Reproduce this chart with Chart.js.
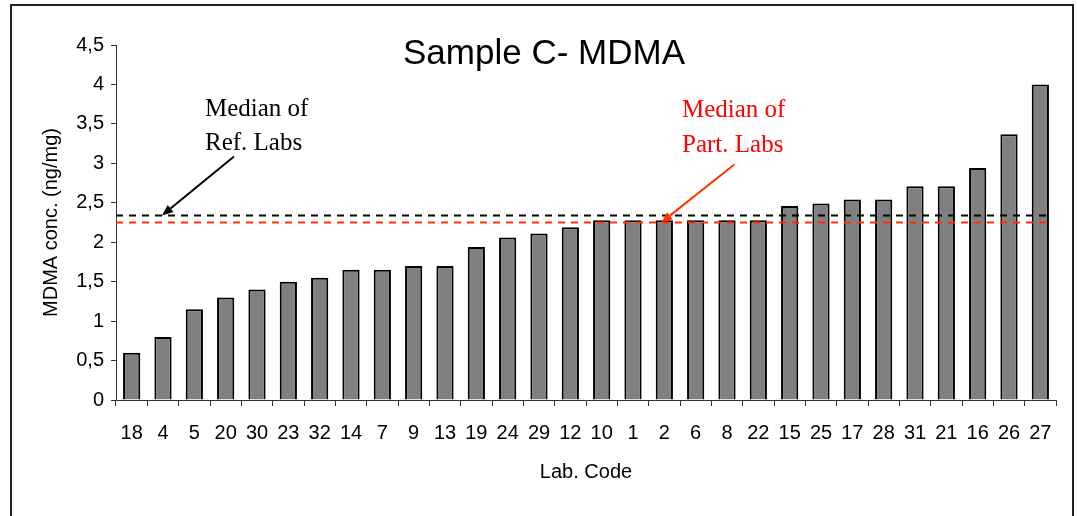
<!DOCTYPE html>
<html>
<head>
<meta charset="utf-8">
<script src="https://cdn.jsdelivr.net/npm/chart.js@4"></script>
<style>
  html, body { margin: 0; padding: 0; background: #fff; }
  #wrap { width: 1077px; height: 516px; }
</style>
</head>
<body>
<div id="wrap"><canvas id="myChart" width="1077" height="516"></canvas></div>
<script>
// lab codes, sorted by result
const labCodes = ['18','4','5','20','30','23','32','14','7','9','13','19','24','29','12',
                  '10','1','2','6','8','22','15','25','17','28','31','21','16','26','27'];
const mdmaConc = [0.6, 0.8, 1.15, 1.3, 1.4, 1.5, 1.55, 1.65, 1.65, 1.7, 1.7, 1.94, 2.06, 2.11, 2.19,
                  2.28, 2.28, 2.28, 2.28, 2.28, 2.28, 2.46, 2.49, 2.54, 2.54, 2.71, 2.71, 2.94, 3.37, 4.0];
const yTicks = [0, 0.5, 1, 1.5, 2, 2.5, 3, 3.5, 4, 4.5];
const refMedian = 2.34;
const partMedian = 2.25;

const sans = "'Liberation Sans', Arial, sans-serif";
const serif = "'Liberation Serif', 'Times New Roman', serif";

const arrow = (ctx, x0, y0, x1, y1, color) => {
    ctx.save();
    ctx.strokeStyle = color;
    ctx.fillStyle = color;
    ctx.lineWidth = 2;
    const a = Math.atan2(y1 - y0, x1 - x0);
    const hl = 11, hw = 4.5;
    const bx = x1 - hl * Math.cos(a), by = y1 - hl * Math.sin(a);
    ctx.beginPath();
    ctx.moveTo(x0, y0);
    ctx.lineTo(bx, by);
    ctx.stroke();
    ctx.beginPath();
    ctx.moveTo(x1, y1);
    ctx.lineTo(bx + hw * Math.sin(a), by - hw * Math.cos(a));
    ctx.lineTo(bx - hw * Math.sin(a), by + hw * Math.cos(a));
    ctx.closePath();
    ctx.fill();
    ctx.restore();
};

const extras = {
    id: 'extras',
    beforeDraw(chart) {
        const ctx = chart.ctx;
        ctx.save();
        ctx.fillStyle = '#fff';
        ctx.fillRect(0, 0, chart.width, chart.height);
        ctx.strokeStyle = '#222';
        ctx.lineWidth = 2;
        ctx.strokeRect(11, 5, 1062, 600);
        ctx.restore();
    },
    afterDatasetsDraw(chart) {
        const ctx = chart.ctx;
        const x = chart.scales.x, y = chart.scales.y;
        const left = chart.chartArea.left;
        const right = x.getPixelForValue(labCodes.length - 1) + 10;

        // median lines
        ctx.save();
        ctx.lineWidth = 2;
        ctx.setLineDash([7, 6]);
        ctx.strokeStyle = '#000';
        let yy = y.getPixelForValue(refMedian);
        ctx.beginPath(); ctx.moveTo(left, yy); ctx.lineTo(right, yy); ctx.stroke();
        ctx.strokeStyle = '#ff3300';
        yy = y.getPixelForValue(partMedian);
        ctx.beginPath(); ctx.moveTo(left, yy); ctx.lineTo(right, yy); ctx.stroke();
        ctx.restore();

        // arrows to the lines
        const tipRef = { x: x.getPixelForValue(1) - 1, y: y.getPixelForValue(refMedian) };
        arrow(ctx, tipRef.x + 72, tipRef.y - 59, tipRef.x, tipRef.y, '#000');
        const tipPart = { x: x.getPixelForValue(17) - 3, y: y.getPixelForValue(partMedian) };
        arrow(ctx, tipPart.x + 73, tipPart.y - 58, tipPart.x, tipPart.y, '#ff3300');

        // notes
        ctx.save();
        ctx.font = '25px ' + serif;
        ctx.textAlign = 'left';
        ctx.textBaseline = 'alphabetic';
        ctx.fillStyle = '#000';
        ctx.fillText('Median of', 205, 116);
        ctx.fillText('Ref. Labs', 205, 150);
        ctx.fillStyle = '#ff0000';
        ctx.fillText('Median of', 682, 117);
        ctx.fillText('Part. Labs', 682, 152);

        // title
        ctx.fillStyle = '#000';
        ctx.font = '35px ' + sans;
        ctx.textAlign = 'center';
        ctx.fillText('Sample C- MDMA', 544, 64);
        ctx.restore();
    }
};

var ctx = document.getElementById('myChart').getContext('2d');
var chart = new Chart(ctx, {
    type: 'bar',
    data: {
        labels: labCodes,
        datasets: [{
            data: mdmaConc,
            backgroundColor: '#808080',
            borderColor: '#000',
            borderWidth: 2,
            categoryPercentage: 1,
            barPercentage: 0.55
        }]
    },
    options: {
        responsive: false,
        animation: false,
        layout: { padding: { left: 30, right: 21, top: 45, bottom: 32 } },
        plugins: {
            legend: { display: false },
            tooltip: { enabled: false }
        },
        scales: {
            x: {
                afterFit: (s) => { s.height = 84; },
                grid: { display: true, drawOnChartArea: false, tickLength: 6, color: '#333', offset: true },
                border: { display: true, color: '#333', width: 1 },
                ticks: { color: '#000', font: { family: sans, size: 20 }, padding: 15, maxRotation: 0, autoSkip: false },
                title: { display: true, text: 'Lab. Code', color: '#000', font: { family: sans, size: 20 }, padding: { top: 0, bottom: 0 } }
            },
            y: {
                min: 0,
                max: 4.5,
                afterFit: (s) => { s.width = 86; },
                afterBuildTicks: (s) => { s.ticks = yTicks.map(v => ({ value: v })); },
                grid: { display: true, drawOnChartArea: false, tickLength: 5, color: '#333' },
                border: { display: true, color: '#333', width: 1 },
                ticks: {
                    color: '#000',
                    font: { family: sans, size: 20 },
                    padding: 7,
                    callback: (v) => String(v).replace('.', ',')
                },
                title: { display: true, text: 'MDMA conc. (ng/mg)', color: '#000', font: { family: sans, size: 20 }, padding: { top: 9, bottom: 0 } }
            }
        }
    },
    plugins: [extras]
});
</script>
</body>
</html>
